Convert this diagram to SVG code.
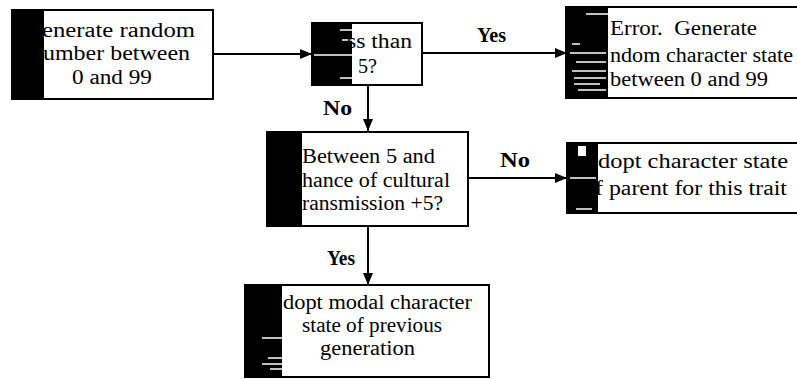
<svg xmlns="http://www.w3.org/2000/svg" width="797" height="379" viewBox="0 0 797 379">
<defs>
<marker id="ah" viewBox="0 0 12 10" refX="12" refY="5" markerWidth="12" markerHeight="10" markerUnits="userSpaceOnUse" orient="auto">
<path d="M0,0 L12,5 L0,10 Z" fill="#000"/>
</marker>
<style>
.box{fill:#fff;stroke:#000;stroke-width:2}
.bar{fill:#000}
.streak{stroke:#fff;stroke-width:1.5}
.t{font-family:"Liberation Serif","Times New Roman",serif;font-size:20.5px;fill:#000;white-space:pre}
.lbl{font-family:"Liberation Serif","Times New Roman",serif;font-size:21px;font-weight:bold;fill:#000}
.con{stroke:#000;stroke-width:2;fill:none}
</style>
</defs>
<rect width="797" height="379" fill="#fff"/>
<g id="connectors">
<line class="con" x1="213" y1="54" x2="312" y2="54" marker-end="url(#ah)"/>
<line class="con" x1="422" y1="53" x2="567" y2="53" marker-end="url(#ah)"/>
<line class="con" x1="368" y1="85" x2="368" y2="131" marker-end="url(#ah)"/>
<line class="con" x1="468" y1="178" x2="567" y2="178" marker-end="url(#ah)"/>
<line class="con" x1="368" y1="226" x2="368" y2="285" marker-end="url(#ah)"/>
<text class="lbl" x="477" y="42" textLength="29" lengthAdjust="spacingAndGlyphs">Yes</text>
<text class="lbl" x="323" y="115" textLength="29" lengthAdjust="spacingAndGlyphs">No</text>
<text class="lbl" x="500" y="167" textLength="30" lengthAdjust="spacingAndGlyphs">No</text>
<text class="lbl" x="327" y="265" textLength="28" lengthAdjust="spacingAndGlyphs">Yes</text>
</g>
<g id="node-generate">
<rect class="box" x="12" y="10" width="201" height="89"/>
<rect class="bar" x="12" y="10" width="32" height="89"/>
<text class="t" x="42" y="37" textLength="153" lengthAdjust="spacingAndGlyphs">enerate random</text>
<text class="t" x="43" y="60" textLength="147" lengthAdjust="spacingAndGlyphs">umber between</text>
<text class="t" x="72" y="84" textLength="80" lengthAdjust="spacingAndGlyphs">0 and 99</text>
</g>
<g id="node-less-than">
<rect class="box" x="312" y="23" width="110" height="62"/>
<rect class="bar" x="312" y="23" width="40" height="62"/>
<line class="streak" x1="314" y1="55" x2="352" y2="55"/>
<line class="streak" x1="340" y1="30" x2="352" y2="30"/>
<line class="streak" x1="342" y1="40" x2="352" y2="40"/>
<line class="streak" x1="340" y1="78" x2="352" y2="78"/>
<text class="t" x="347" y="48" textLength="65" lengthAdjust="spacingAndGlyphs">ss than</text>
<text class="t" x="358" y="73" textLength="19" lengthAdjust="spacingAndGlyphs">5?</text>
</g>
<g id="node-error">
<rect class="box" x="566" y="7" width="240" height="91"/>
<rect class="bar" x="566" y="7" width="42" height="91"/>
<line class="streak" x1="586" y1="14" x2="608" y2="14"/>
<line class="streak" x1="572" y1="44" x2="580" y2="44"/>
<line class="streak" x1="570" y1="53" x2="606" y2="53"/>
<line class="streak" x1="576" y1="62" x2="606" y2="62"/>
<line class="streak" x1="572" y1="71" x2="606" y2="71"/>
<line class="streak" x1="574" y1="78" x2="606" y2="78"/>
<line class="streak" x1="574" y1="84" x2="600" y2="84"/>
<line class="streak" x1="578" y1="90" x2="606" y2="90"/>
<text class="t" x="610" y="35" textLength="147" lengthAdjust="spacingAndGlyphs">Error.  Generate</text>
<text class="t" x="610" y="62" textLength="183" lengthAdjust="spacingAndGlyphs">ndom character state</text>
<text class="t" x="610" y="86" textLength="158" lengthAdjust="spacingAndGlyphs">between 0 and 99</text>
</g>
<g id="node-between">
<rect class="box" x="267" y="132" width="201" height="94"/>
<rect class="bar" x="267" y="132" width="35" height="94"/>
<text class="t" x="302" y="163" textLength="133" lengthAdjust="spacingAndGlyphs">Between 5 and</text>
<text class="t" x="302" y="187" textLength="148" lengthAdjust="spacingAndGlyphs">hance of cultural</text>
<text class="t" x="302" y="210" textLength="141" lengthAdjust="spacingAndGlyphs">ransmission +5?</text>
</g>
<g id="node-parent">
<rect class="box" x="567" y="143" width="240" height="70"/>
<rect class="bar" x="567" y="143" width="31" height="70"/>
<rect x="578" y="146" width="8" height="10" fill="#fff"/>
<line class="streak" x1="570" y1="178" x2="596" y2="178"/>
<line class="streak" x1="576" y1="209" x2="592" y2="209"/>
<text class="t" x="598" y="168" textLength="190" lengthAdjust="spacingAndGlyphs">dopt character state</text>
<text class="t" x="595" y="195" textLength="192" lengthAdjust="spacingAndGlyphs">f parent for this trait</text>
</g>
<g id="node-modal">
<rect class="box" x="245" y="285" width="244" height="92"/>
<rect class="bar" x="245" y="285" width="37" height="92"/>
<line class="streak" x1="262" y1="338" x2="282" y2="338"/>
<line class="streak" x1="268" y1="358" x2="282" y2="358"/>
<line class="streak" x1="262" y1="364" x2="282" y2="364"/>
<line class="streak" x1="270" y1="369" x2="282" y2="369"/>
<text class="t" x="283" y="309" textLength="189" lengthAdjust="spacingAndGlyphs">dopt modal character</text>
<text class="t" x="302" y="332" textLength="140" lengthAdjust="spacingAndGlyphs">state of previous</text>
<text class="t" x="320" y="355" textLength="95" lengthAdjust="spacingAndGlyphs">generation</text>
</g>
</svg>
